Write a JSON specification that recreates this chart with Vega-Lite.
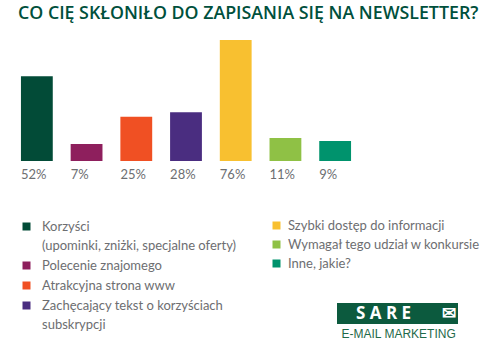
{
  "$schema": "https://vega.github.io/schema/vega-lite/v6.json",
  "width": 348,
  "height": 125,
  "autosize": "none",
  "padding": {"left": 12, "top": 36, "right": 144, "bottom": 194},
  "background": "white",
  "title": {
    "text": "CO CIĘ SKŁONIŁO DO ZAPISANIA SIĘ NA NEWSLETTER?",
    "anchor": "start",
    "frame": "group",
    "dx": 6,
    "dy": 15,
    "offset": 14,
    "baseline": "alphabetic",
    "font": "Open Sans",
    "fontSize": 17.8,
    "fontWeight": 600,
    "color": "#00503c"
  },
  "data": {
    "values": [
      {"k": "Korzyści (upominki, zniżki, specjalne oferty)", "v": 0.52, "g": "L"},
      {"k": "Polecenie znajomego", "v": 0.07, "g": "L"},
      {"k": "Atrakcyjna strona www", "v": 0.25, "g": "L"},
      {"k": "Zachęcający tekst o korzyściach subskrypcji", "v": 0.28, "g": "L"},
      {"k": "Szybki dostęp do informacji", "v": 0.76, "g": "R"},
      {"k": "Wymagał tego udział w konkursie", "v": 0.11, "g": "R"},
      {"k": "Inne, jakie?", "v": 0.09, "g": "R"}
    ]
  },
  "encoding": {
    "x": {
      "field": "k",
      "type": "nominal",
      "sort": null,
      "scale": {
        "domain": [
          "Korzyści (upominki, zniżki, specjalne oferty)",
          "Polecenie znajomego",
          "Atrakcyjna strona www",
          "Zachęcający tekst o korzyściach subskrypcji",
          "Szybki dostęp do informacji",
          "Wymagał tego udział w konkursie",
          "Inne, jakie?"
        ],
        "paddingInner": 0.36,
        "paddingOuter": 0.18
      },
      "axis": {
        "labels": false,
        "ticks": false,
        "domain": false,
        "grid": false,
        "title": "E-MAIL MARKETING",
        "titleX": 329,
        "titleY": 172,
        "titleAlign": "left",
        "titleBaseline": "middle",
        "titleAngle": 0,
        "titleColor": "#1f6a4a",
        "titleFont": "Liberation Sans",
        "titleFontSize": 12,
        "titleFontWeight": "normal"
      }
    },
    "y": {
      "field": "v",
      "type": "quantitative",
      "scale": {"domain": [-0.043, 0.787], "nice": false, "zero": false},
      "axis": null
    }
  },
  "layer": [
    {
      "transform": [{"filter": "datum.g == 'L'"}],
      "mark": {"type": "bar"},
      "encoding": {
        "y2": {"datum": -0.043},
        "color": {
          "field": "k",
          "type": "nominal",
          "scale": {
            "domain": [
              "Korzyści (upominki, zniżki, specjalne oferty)",
              "Polecenie znajomego",
              "Atrakcyjna strona www",
              "Zachęcający tekst o korzyściach subskrypcji"
            ],
            "range": ["#024b37", "#8e1f5d", "#f05023", "#4a2d80"]
          },
          "legend": {
            "orient": "none",
            "legendX": 8,
            "legendY": 184,
            "direction": "vertical",
            "title": null,
            "padding": 0,
            "symbolType": "square",
            "symbolSize": 64,
            "symbolStrokeWidth": 0,
            "symbolOpacity": 1,
            "labelFont": "Lato",
            "labelFontSize": 13,
            "labelColor": "#6d6e71",
            "labelOffset": 9,
            "labelLimit": 400,
            "rowPadding": 6,
            "labelExpr": "datum.label == 'Korzyści (upominki, zniżki, specjalne oferty)' ? ['Korzyści', '(upominki, zniżki, specjalne oferty)'] : datum.label == 'Zachęcający tekst o korzyściach subskrypcji' ? ['Zachęcający tekst o korzyściach', 'subskrypcji'] : datum.label",
            "encode": {"labels": {"update": {"lineHeight": {"value": 19}}}}
          }
        }
      }
    },
    {
      "transform": [{"filter": "datum.g == 'R'"}],
      "mark": {"type": "bar"},
      "encoding": {
        "y2": {"datum": -0.043},
        "color": {
          "field": "k",
          "type": "nominal",
          "scale": {
            "domain": [
              "Szybki dostęp do informacji",
              "Wymagał tego udział w konkursie",
              "Inne, jakie?"
            ],
            "range": ["#f8c030", "#8fc145", "#00936d"]
          },
          "legend": {
            "orient": "none",
            "legendX": 258,
            "legendY": 183,
            "direction": "vertical",
            "title": null,
            "padding": 0,
            "symbolType": "square",
            "symbolSize": 64,
            "symbolStrokeWidth": 0,
            "symbolOpacity": 1,
            "labelFont": "Lato",
            "labelFontSize": 13,
            "labelColor": "#6d6e71",
            "labelOffset": 5,
            "labelLimit": 400,
            "rowPadding": 5
          }
        }
      }
    },
    {
      "mark": {"type": "text", "align": "left", "baseline": "middle", "dy": 14, "font": "Lato", "fontSize": 13, "color": "#6d6e71"},
      "encoding": {
        "x": {"field": "k", "type": "nominal", "bandPosition": 0},
        "y": {"datum": -0.043},
        "text": {"field": "v", "type": "quantitative", "format": ".0%"},
        "opacity": {
          "datum": "SARE",
          "type": "nominal",
          "scale": {"range": [1]},
          "legend": {
            "orient": "none",
            "legendX": 325,
            "legendY": 267,
            "title": null,
            "padding": 2,
            "fillColor": "#0c5a3e",
            "symbolSize": 0,
            "symbolOpacity": 0,
            "symbolStrokeWidth": 0,
            "labelOffset": 0,
            "labelColor": "white",
            "labelFont": "Open Sans",
            "labelFontSize": 17,
            "labelFontWeight": "bold",
            "labelLimit": 400,
            "labelExpr": "'\u00a0\u00a0S A R E\u00a0\u00a0\u00a0\u00a0\u00a0\u00a0\u00a0\u2709'"
          }
        }
      }
    }
  ],
  "resolve": {"scale": {"color": "independent"}},
  "config": {"view": {"stroke": null}}
}
